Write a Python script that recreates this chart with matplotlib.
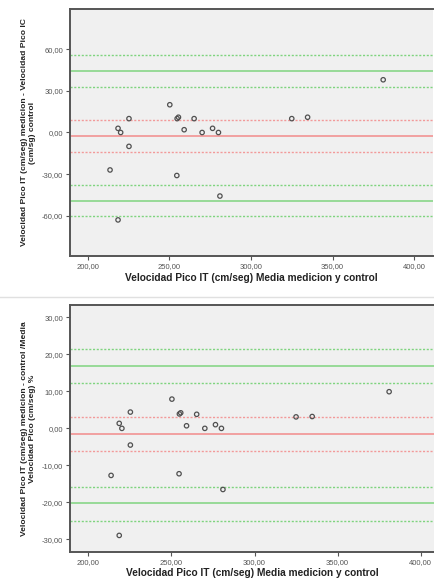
# Bland-Altman plots: Velocidad Pico IT medicion vs control
import matplotlib
matplotlib.use("Agg")
import matplotlib.pyplot as plt
from matplotlib.ticker import FuncFormatter
from matplotlib.lines import Line2D

plt.rcParams["font.family"] = ["Liberation Sans", "DejaVu Sans"]

# -------------------------
# Data
# -------------------------
media = [381.0, 250.3, 225.3, 255.6, 254.8, 265.2, 325.0, 334.7, 218.6, 220.2,
         259.1, 270.1, 276.5, 280.1, 225.3, 213.7, 254.6, 281.0, 218.6]
diferencia = [38.0, 20.0, 10.0, 11.0, 10.0, 10.0, 10.0, 11.0, 3.0, 0.0,
              2.0, 0.0, 3.0, 0.0, -10.0, -27.0, -31.0, -45.8, -63.0]
diferencia_pct = [9.9, 7.9, 4.4, 4.2, 3.9, 3.8, 3.1, 3.2, 1.35, 0.0,
                  0.7, 0.0, 1.0, 0.0, -4.5, -12.7, -12.25, -16.5, -28.9]

# mean line + its CI, limits of agreement + their CI
media_dif = [-2.6, 8.9, -14.1]
limites_dif = [44.1, 55.6, 32.6, -49.2, -37.7, -60.5]
media_pct = [-1.6, 2.97, -6.2]
limites_pct = [16.9, 21.5, 12.3, -20.2, -15.7, -24.9]

xticks = [200, 250, 300, 350, 400]
yticks_dif = [-60, -30, 0, 30, 60]
yticks_pct = [-30, -20, -10, 0, 10, 20, 30]

XLABEL = "Velocidad Pico IT (cm/seg) Media medicion y control"
YLABEL_DIF = "Velocidad Pico IT (cm/seg) medicion - Velocidad Pico IC\n(cm/sg) control"
YLABEL_PCT = "Velocidad Pico IT (cm/seg) medicion - control /Media\nVelocidad Pico (cm/seg) %"

GREEN = "#7fd47f"
RED = "#f29a9a"
BG = "#f0f0f0"
FRAME = "#555555"

fmt = FuncFormatter(lambda v, p: f"{v:.2f}".replace(".", ","))


def draw_panel(ax, y, mean_lines, lim_lines, yticks, ylim, xlim, ylabel):
    ax.set_facecolor(BG)
    # solid first value, dotted CI after
    ax.axhline(mean_lines[0], color=RED, lw=1.3, zorder=1)
    for v in mean_lines[1:]:
        ax.axhline(v, color=RED, lw=1.0, ls=(0, (1.5, 1.2)), zorder=1)
    for i, v in enumerate(lim_lines):
        if i % 3 == 0:
            ax.axhline(v, color=GREEN, lw=1.1, zorder=1)
        else:
            ax.axhline(v, color=GREEN, lw=1.0, ls=(0, (1.5, 1.2)), zorder=1)
    ax.scatter(media, y, s=10, facecolors="none", edgecolors="#505050",
               linewidths=0.9, zorder=3)
    ax.set_xlim(*xlim)
    ax.set_ylim(*ylim)
    ax.set_xticks(xticks)
    ax.set_yticks(yticks)
    ax.xaxis.set_major_formatter(fmt)
    ax.yaxis.set_major_formatter(fmt)
    ax.tick_params(labelsize=5.5, colors="#555555", length=3, width=0.8, pad=2)
    for s in ["left", "bottom", "top"]:
        ax.spines[s].set_color(FRAME)
        ax.spines[s].set_linewidth(1.4)
    ax.spines["right"].set_visible(False)
    ax.set_xlabel(XLABEL, fontsize=7.3, fontweight="bold", color="#222222", labelpad=2)
    ax.set_ylabel(ylabel, fontsize=6.1, fontweight="bold", color="#222222",
                  labelpad=4, linespacing=1.2)


fig = plt.figure(figsize=(4.35, 5.81), dpi=100)
ax1 = fig.add_axes([0.161, 0.5594, 0.834, 0.4251])
ax2 = fig.add_axes([0.161, 0.0504, 0.839, 0.4246])

draw_panel(ax1, diferencia, media_dif, limites_dif, yticks_dif, (-89, 89), (189.2, 411.4), YLABEL_DIF)
draw_panel(ax2, diferencia_pct, media_pct, limites_pct, yticks_pct, (-33.3, 33.3), (189.0, 408.6), YLABEL_PCT)

# faint separator between the two pictures
fig.add_artist(Line2D([0.0, 1.0], [0.488, 0.488], color="#e0e0e0", lw=1.0))

fig.savefig("out.png", dpi=100)
